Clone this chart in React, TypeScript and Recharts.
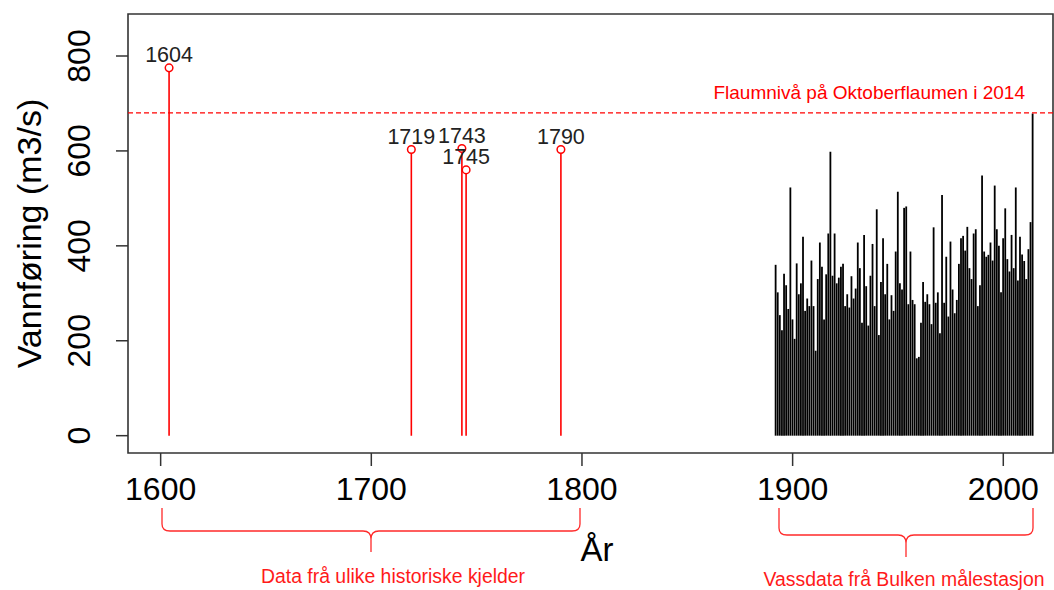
import {
  Bar,
  ComposedChart,
  ErrorBar,
  LabelList,
  ReferenceArea,
  ReferenceLine,
  Scatter,
  XAxis,
  YAxis,
} from "recharts";

// Historic floods (red stems with open circles)
const historicYears = [1604, 1719, 1743, 1745, 1790];
const historicFlows = [775, 603, 605, 560, 603];

// Annual maximum flow at Bulken, 1892-2014
const firstGaugedYear = 1892;
const gaugedFlows = [
  360, 302, 254, 222, 341, 317, 267, 523, 245, 204,
  363, 298, 321, 419, 263, 289, 273, 369, 273, 179,
  330, 407, 356, 245, 340, 426, 598, 337, 426, 321,
  333, 356, 362, 273, 298, 270, 336, 289, 310, 407,
  353, 238, 423, 315, 232, 337, 404, 273, 477, 212,
  324, 416, 298, 362, 245, 296, 263, 388, 514, 321,
  308, 480, 483, 277, 388, 286, 277, 163, 166, 238,
  324, 282, 298, 277, 235, 439, 280, 302, 216, 507,
  280, 377, 251, 409, 308, 258, 286, 362, 416, 421,
  390, 440, 353, 330, 426, 435, 273, 317, 548, 388,
  377, 381, 407, 369, 527, 435, 400, 302, 416, 479,
  372, 346, 423, 353, 523, 327, 419, 382, 368, 330,
  393, 450, 679,
];

const floodLevel2014 = 680;
const xTicks = [1600, 1700, 1800, 1900, 2000];
const yTicks = [0, 200, 400, 600, 800];
const xDomain: [number, number] = [1584.5, 2023.6];
const yDomain: [number, number] = [-36.5, 888.5];

const gaugedData = gaugedFlows.map((flow, i) => ({ year: firstGaugedYear + i, flow }));
const historicData = historicYears.map((year, i) => ({
  year,
  flow: historicFlows[i],
  stem: [historicFlows[i], 0],
}));

const RED = "#ff0000";
const AXIS = "#333";

function YTick({ x, y, payload }: any) {
  return (
    <text x={x} y={y} transform={`rotate(-90, ${x}, ${y})`} textAnchor="middle" fontSize={32} fill="#000">
      {payload.value}
    </text>
  );
}

function OpenCircle({ cx, cy }: any) {
  return <circle cx={cx} cy={cy} r={3.8} fill="#fff" stroke={RED} strokeWidth={1.5} />;
}

function FloodLabel({ viewBox }: any) {
  const { x, y, width } = viewBox;
  return (
    <text x={x + width - 28} y={y - 14} textAnchor="end" fill={RED} fontSize={19}>
      Flaumnivå på Oktoberflaumen i 2014
    </text>
  );
}

export default function App() {
  return (
    <div style={{ position: "relative", width: 1054, height: 590, fontFamily: "'Liberation Sans', Arial, sans-serif" }}>
      <style>{"body{margin:0}"}</style>
      <ComposedChart width={1054} height={590} data={gaugedData} margin={{ top: 14, right: 1, bottom: 97, left: 0 }}>
        <XAxis
          dataKey="year"
          type="number"
          domain={xDomain}
          allowDataOverflow
          ticks={xTicks}
          interval={0}
          height={40}
          axisLine={false}
          tickSize={13}
          tickMargin={11}
          tickLine={{ stroke: AXIS, strokeWidth: 1.5 }}
          tick={{ fill: "#000", fontSize: 32 }}
        />
        <YAxis
          type="number"
          domain={yDomain}
          allowDataOverflow
          ticks={yTicks}
          interval={0}
          width={128}
          axisLine={false}
          tickSize={12}
          tickMargin={26}
          tickLine={{ stroke: AXIS, strokeWidth: 1.5 }}
          tick={<YTick />}
          label={{
            value: "Vannføring (m3/s)",
            angle: -90,
            position: "insideLeft",
            offset: 29,
            fill: "#000",
            fontSize: 34,
            style: { textAnchor: "middle" },
          }}
        />
        <ReferenceArea
          x1={xDomain[0]}
          x2={xDomain[1]}
          y1={yDomain[0]}
          y2={yDomain[1]}
          fill="none"
          stroke={AXIS}
          strokeWidth={1.6}
          fillOpacity={0}
          ifOverflow="visible"
        />
        <Bar dataKey="flow" fill="#000" barSize={1.8} isAnimationActive={false} />
        <ReferenceLine
          y={floodLevel2014}
          stroke={RED}
          strokeWidth={1.3}
          strokeDasharray="5 3"
          label={FloodLabel}
        />
        <Scatter data={historicData} dataKey="flow" shape={<OpenCircle />} isAnimationActive={false}>
          <ErrorBar dataKey="stem" direction="y" width={0} stroke={RED} strokeWidth={1.6} />
          <LabelList dataKey="year" position="top" offset={1} fill="#222" fontSize={21.5} />
        </Scatter>
      </ComposedChart>
      <svg
        width={1054}
        height={590}
        style={{ position: "absolute", left: 0, top: 0, pointerEvents: "none" }}
      >
        <g fill="none" stroke="#ff2a2a" strokeWidth={1.3}>
          <path d="M162,508 L162,524 Q162,531 170,531 L363,531 Q371,531 371,539 L371,552 M371,539 Q371,531 379,531 L572,531 Q580,531 580,524 L580,508" />
          <path d="M779,508 L779,528 Q779,535 787,535 L898,535 Q906,535 906,543 L906,557 M906,543 Q906,535 914,535 L1025,535 Q1033,535 1033,528 L1033,508" />
        </g>
        <text x={597} y={561} textAnchor="middle" fontSize={33} fill="#000">
          År
        </text>
        <text x={393} y={583} textAnchor="middle" fontSize={20} fill="#ff1a1a" textLength={264} lengthAdjust="spacingAndGlyphs">
          Data frå ulike historiske kjelder
        </text>
        <text x={904} y={586} textAnchor="middle" fontSize={20} fill="#ff1a1a" textLength={281} lengthAdjust="spacingAndGlyphs">
          Vassdata frå Bulken målestasjon
        </text>
      </svg>
    </div>
  );
}
